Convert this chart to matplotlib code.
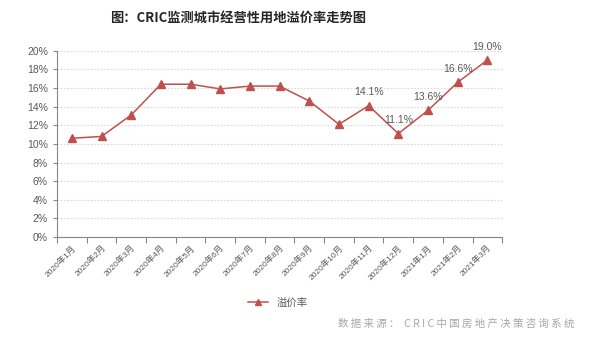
"""Premium rate of operating land in CRIC-monitored cities, monthly line chart."""

import matplotlib
matplotlib.use('Agg')
import matplotlib.pyplot as plt
from matplotlib.ticker import FuncFormatter

plt.rcParams['font.family'] = ['Liberation Sans', 'Noto Sans CJK SC']

months = ['2020年1月', '2020年2月', '2020年3月', '2020年4月', '2020年5月',
          '2020年6月', '2020年7月', '2020年8月', '2020年9月', '2020年10月',
          '2020年11月', '2020年12月', '2021年1月', '2021年2月', '2021年3月']
premium = [10.6, 10.8, 13.1, 16.4, 16.4, 15.9, 16.2, 16.2, 14.6, 12.1,
           14.1, 11.1, 13.6, 16.6, 19.0]
labelled = [10, 11, 12, 13, 14]  # indexes that carry a value label

RED = '#C0504D'
GREY = '#595959'

fig = plt.figure(figsize=(6.0, 3.62), dpi=100)
fig.patch.set_facecolor('white')
ax = fig.add_axes([0.095, 0.345, 0.742, 0.515])

x = list(range(len(months)))
ax.plot(x, premium, color=RED, lw=1.1, marker='^', ms=6,
        markerfacecolor=RED, markeredgecolor=RED, label='溢价率')

for i in labelled:
    ax.annotate(f'{premium[i]:.1f}%', (x[i], premium[i]), xytext=(0, 6),
                textcoords='offset points', ha='center', va='bottom',
                fontsize=7.5, color=GREY)

ax.set_xlim(-0.5, len(months) - 0.5)
ax.set_ylim(0, 20)
ax.set_yticks(range(0, 21, 2))
ax.yaxis.set_major_formatter(FuncFormatter(lambda v, _: f'{v:.0f}%'))
ax.grid(axis='y', color='#D9D9D9', ls=(0, (1.5, 1.5)), lw=0.8)
ax.set_axisbelow(True)

# category boundary ticks, labels centered on categories
ax.set_xticks([i - 0.5 for i in range(len(months) + 1)])
ax.set_xticklabels([])
ax.set_xticks(x, minor=True)
ax.set_xticklabels(months, minor=True, rotation=45, ha='right',
                   rotation_mode='anchor', fontsize=6, color=GREY)
ax.tick_params(axis='x', which='major', length=4, color='#868686', direction='out')
ax.tick_params(axis='x', which='minor', length=0, pad=5)
ax.tick_params(axis='y', length=3, color='#868686', labelsize=7.5, labelcolor=GREY)

for side in ('top', 'right'):
    ax.spines[side].set_visible(False)
for side in ('left', 'bottom'):
    ax.spines[side].set_color('#868686')
    ax.spines[side].set_linewidth(0.8)

fig.legend(loc='center', bbox_to_anchor=(0.463, 0.163), frameon=False,
           fontsize=7.5, handlelength=2.0, markerscale=0.8, labelcolor=GREY)

fig.text(0.397, 0.95, '图：CRIC监测城市经营性用地溢价率走势图', ha='center',
         va='center', fontsize=9.5, fontweight='bold', color='#262626',
         family=['Noto Sans CJK SC'])
fig.text(0.76, 0.107, '数 据 来 源 ：  C R I C 中 国 房 地 产 决 策 咨 询 系 统',
         ha='center', va='center', fontsize=7.5, color='#A6A6A6',
         family=['Noto Sans CJK SC'])

fig.savefig('out.png', dpi=100)
